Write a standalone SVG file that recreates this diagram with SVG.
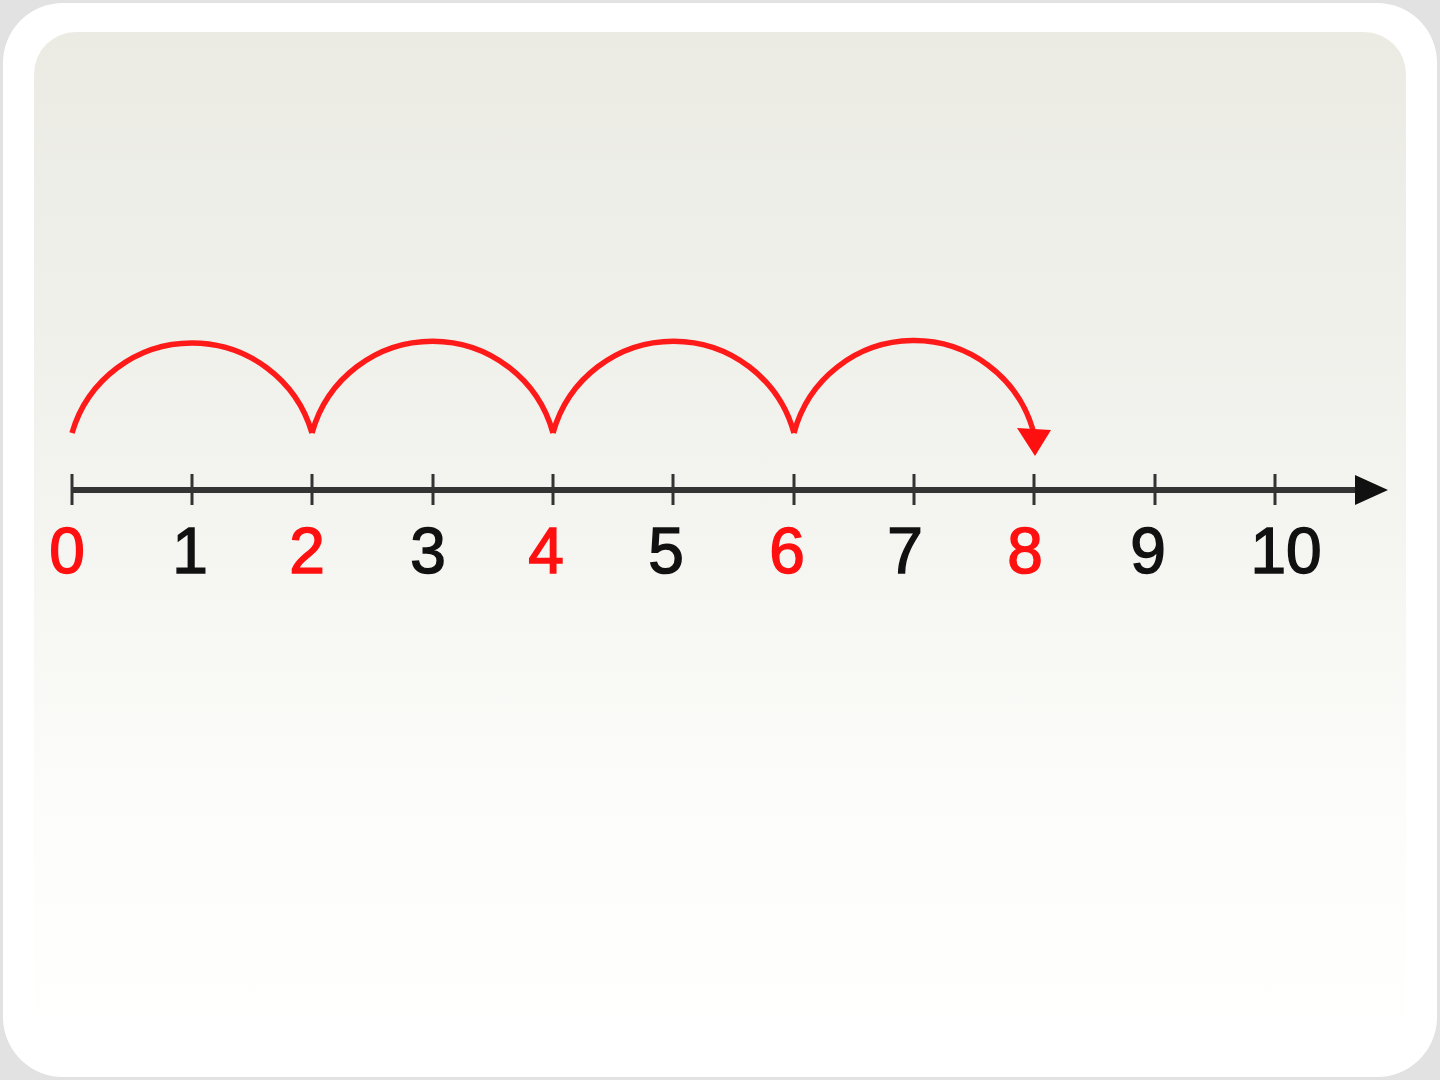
<svg xmlns="http://www.w3.org/2000/svg" width="1440" height="1080" viewBox="0 0 1440 1080">
<defs>
<linearGradient id="panel" x1="0" y1="0" x2="0" y2="1">
<stop offset="0" stop-color="#ebebe4"/>
<stop offset="0.45" stop-color="#f3f3ef"/>
<stop offset="0.75" stop-color="#fcfcfa"/>
<stop offset="1" stop-color="#ffffff"/>
</linearGradient>
<style>
.tick{stroke:#333;stroke-width:3}
.axis{stroke:#333;stroke-width:6}
.jump{fill:none;stroke:#ff1a1a;stroke-width:5.5}
.num{font-family:"Liberation Sans",Arial,sans-serif;font-size:64px;text-anchor:middle;stroke-width:1.5}
.red{fill:#ff1010;stroke:#ff1010}
.blk{fill:#111;stroke:#111}
</style>
</defs>
<rect x="0" y="0" width="1440" height="1080" fill="#e2e2e2"/>
<rect x="3" y="3" width="1434" height="1074" rx="60" fill="#ffffff"/>
<rect x="34" y="32" width="1372" height="1020" rx="42" fill="url(#panel)"/>
<g id="axis">
<line class="axis" x1="72" y1="490" x2="1362" y2="490"/>
<polygon points="1388,490 1355,475 1355,505" fill="#111"/>
<g>
<line class="tick" x1="72" y1="474" x2="72" y2="505"/>
<line class="tick" x1="192" y1="474" x2="192" y2="505"/>
<line class="tick" x1="312" y1="474" x2="312" y2="505"/>
<line class="tick" x1="433" y1="474" x2="433" y2="505"/>
<line class="tick" x1="553" y1="474" x2="553" y2="505"/>
<line class="tick" x1="673" y1="474" x2="673" y2="505"/>
<line class="tick" x1="794" y1="474" x2="794" y2="505"/>
<line class="tick" x1="914" y1="474" x2="914" y2="505"/>
<line class="tick" x1="1034" y1="474" x2="1034" y2="505"/>
<line class="tick" x1="1155" y1="474" x2="1155" y2="505"/>
<line class="tick" x1="1275" y1="474" x2="1275" y2="505"/>
</g>
</g>
<g id="labels">
<text class="num red" x="67" y="573">0</text>
<text class="num blk" x="190" y="573">1</text>
<text class="num red" x="307" y="573">2</text>
<text class="num blk" x="428" y="573">3</text>
<text class="num red" x="546" y="573">4</text>
<text class="num blk" x="666" y="573">5</text>
<text class="num red" x="787" y="573">6</text>
<text class="num blk" x="905" y="573">7</text>
<text class="num red" x="1025" y="573">8</text>
<text class="num blk" x="1148" y="573">9</text>
<text class="num blk" x="1286" y="573">10</text>
</g>
<g id="connectors">
<path class="jump" d="M72,433 A125,125 0 0 1 312,433"/>
<path class="jump" d="M312,433 A125,125 0 0 1 553,433"/>
<path class="jump" d="M553,433 A125,125 0 0 1 794,433"/>
<path class="jump" d="M794,433 A124,124 0 0 1 1033,430"/>
<polygon points="1035,456 1017,428 1051,430" fill="#ff1010"/>
</g>
</svg>
